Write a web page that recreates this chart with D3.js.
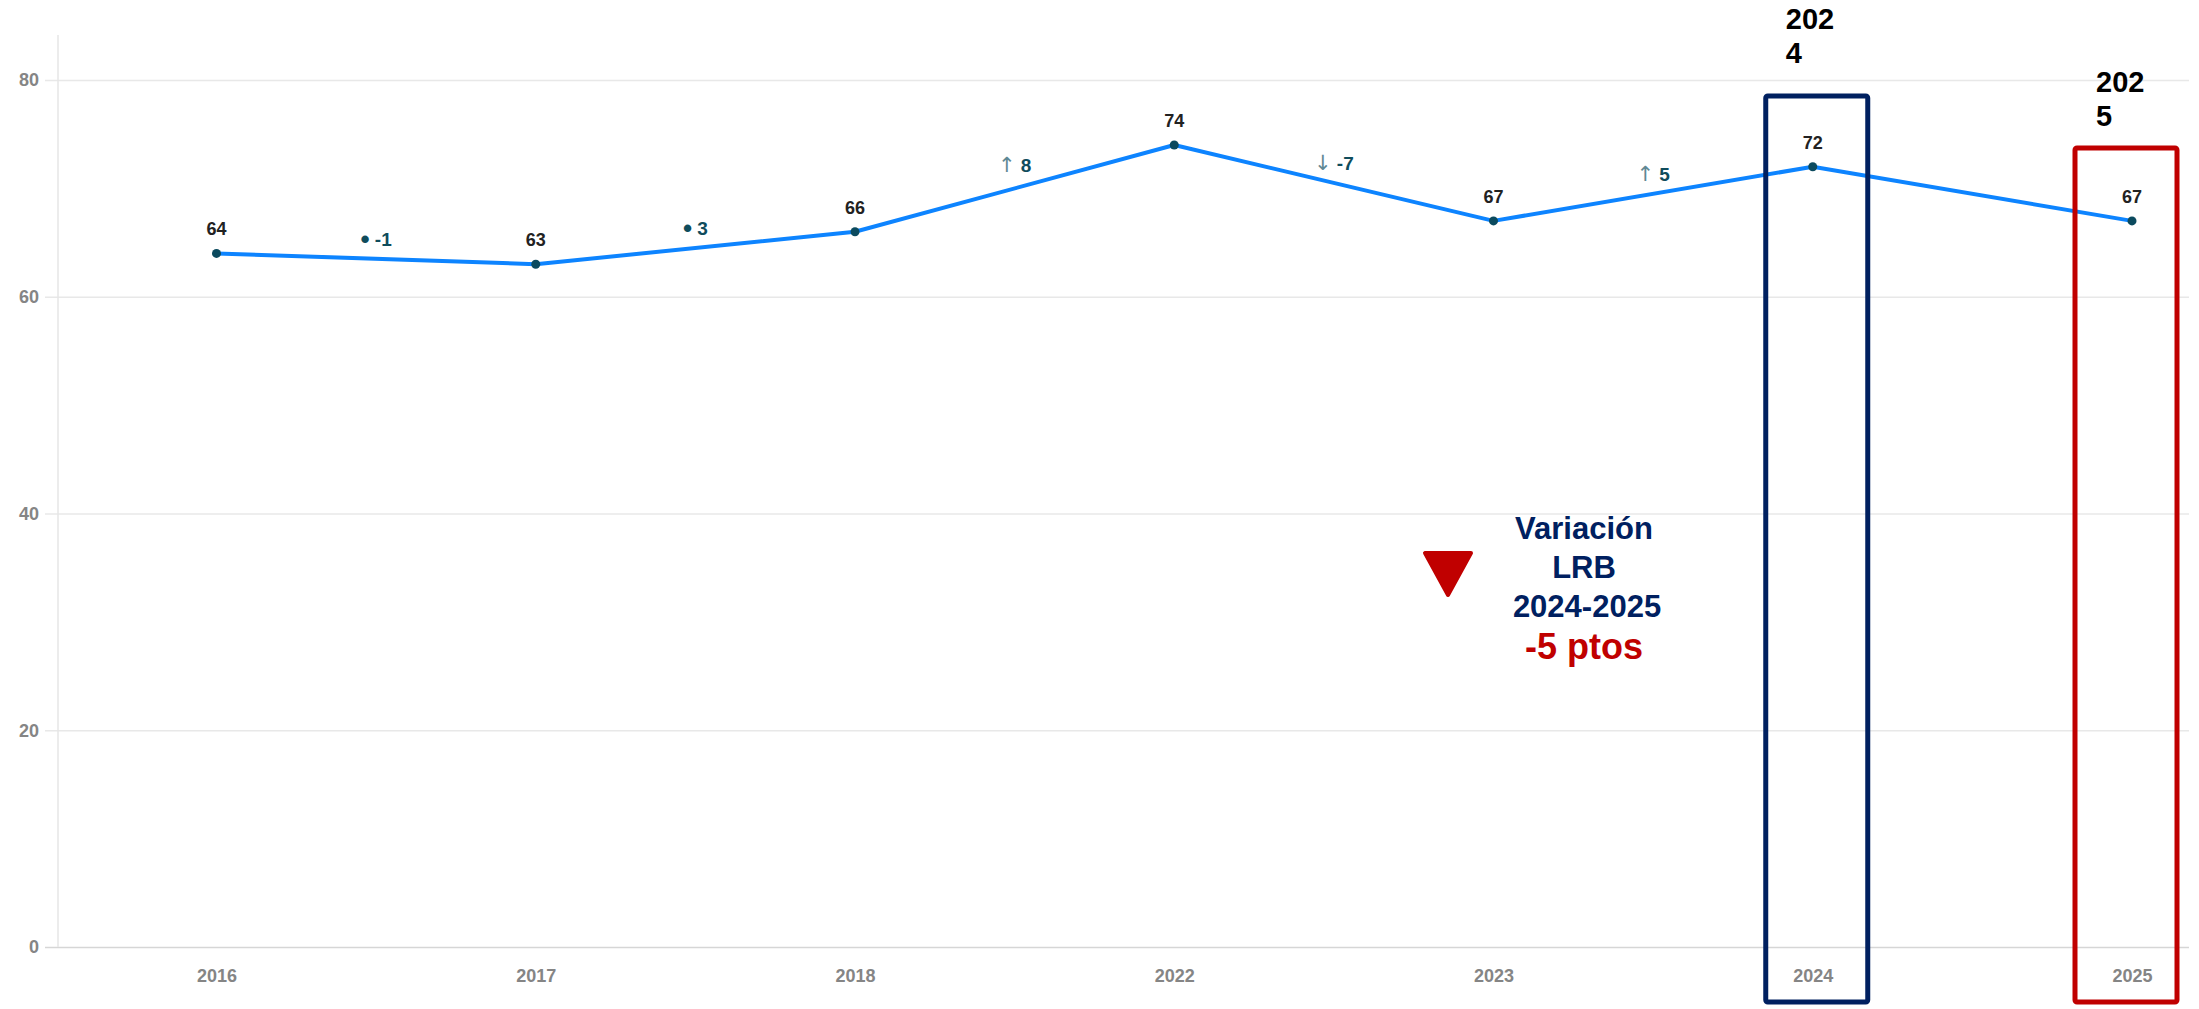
<!DOCTYPE html>
<html>
<head>
<meta charset="utf-8">
<script src="https://cdn.jsdelivr.net/npm/d3@7"></script>
<style>
  html, body { margin: 0; padding: 0; background: #ffffff; }
  svg { display: block; font-family: "Liberation Sans", Arial, sans-serif; }
</style>
</head>
<body>
<svg id="chart" width="2199" height="1009"></svg>
<script>
// Índice LRB por año
const years  = ["2016", "2017", "2018", "2022", "2023", "2024", "2025"];
const values = [64, 63, 66, 74, 67, 72, 67];

// Variación entre años consecutivos (se rotulan los cinco primeros tramos)
const deltas = [-1, 3, 8, -7, 5];

// Marcas del eje vertical
const yTicks = [0, 20, 40, 60, 80];

// Años resaltados con recuadro
const highlightYears  = ["2024", "2025"];
const highlightColors = ["#002060", "#c00000"];

const svg = d3.select("#chart");

const x = d3.scalePoint().domain(years).range([216.5, 2132]);
const y = d3.scaleLinear().domain([0, 80]).range([947, 80]);

const gridLeft = 45, axisX = 58, gridRight = 2189, axisTop = 35;

// Cuadrícula horizontal con marcas a la izquierda del eje
const yAxis = d3.axisLeft(y)
  .tickValues(yTicks)
  .tickSize(-(gridRight - gridLeft))
  .tickPadding(5)
  .tickFormat(d3.format("d"));

const gy = svg.append("g")
  .attr("transform", `translate(${gridLeft},0)`)
  .call(yAxis);
gy.select(".domain").remove();
gy.selectAll(".tick line")
  .attr("stroke", d => d === 0 ? "#d6d6d6" : "#e8e8e8")
  .attr("stroke-width", 1.5);
gy.selectAll(".tick text")
  .attr("fill", "#858585")
  .attr("font-size", 18)
  .attr("font-weight", "bold")
  .attr("font-family", "'Liberation Sans', Arial, sans-serif")
  .attr("dx", -1);

// Línea vertical del eje
svg.append("line")
  .attr("x1", axisX).attr("x2", axisX)
  .attr("y1", axisTop).attr("y2", y(0))
  .attr("stroke", "#e6e6e6").attr("stroke-width", 1.5);

// Eje horizontal de años
const xAxis = d3.axisBottom(x).tickSize(0).tickPadding(22);
const gx = svg.append("g")
  .attr("transform", `translate(0,${y(0)})`)
  .call(xAxis);
gx.select(".domain").remove();
gx.selectAll(".tick text")
  .attr("fill", "#858585")
  .attr("font-size", 18)
  .attr("font-weight", "bold")
  .attr("font-family", "'Liberation Sans', Arial, sans-serif");

// Serie principal
const pts = years.map((yr, i) => ({ year: yr, value: values[i] }));

svg.append("path")
  .datum(pts)
  .attr("fill", "none")
  .attr("stroke", "#0d84ff")
  .attr("stroke-width", 4)
  .attr("stroke-linejoin", "round")
  .attr("d", d3.line().x(d => x(d.year)).y(d => y(d.value)));

svg.selectAll("circle.pt")
  .data(pts)
  .join("circle")
  .attr("class", "pt")
  .attr("cx", d => x(d.year))
  .attr("cy", d => y(d.value))
  .attr("r", 4.5)
  .attr("fill", "#0b4a5e");

// Rótulos de valor
svg.selectAll("text.val")
  .data(pts)
  .join("text")
  .attr("class", "val")
  .attr("x", d => x(d.year))
  .attr("y", d => y(d.value) - 18)
  .attr("text-anchor", "middle")
  .attr("font-size", 18)
  .attr("font-weight", "bold")
  .attr("fill", "#222")
  .text(d => d.value);

// Rótulos de variación entre años
deltas.forEach((d, i) => {
  const a = pts[i], b = pts[i + 1];
  const mx = (x(a.year) + x(b.year)) / 2;
  const my = (y(a.value) + y(b.value)) / 2;
  const t = svg.append("text")
    .attr("x", mx)
    .attr("y", my - (d > 5 ? 16 : 13))
    .attr("text-anchor", "middle")
    .attr("font-size", 19)
    .attr("font-weight", "bold")
    .attr("fill", "#0f4c5c");
  if (Math.abs(d) <= 3) {
    t.append("tspan").attr("font-size", 26).attr("dy", 2).text("•");
    t.append("tspan").attr("dy", -2).text("\u00a0" + d);
  } else {
    t.append("tspan")
      .attr("font-family", "'DejaVu Sans', sans-serif")
      .attr("font-weight", "normal")
      .attr("font-size", 21)
      .attr("fill", "#5f8894")
      .text(d > 0 ? "↑" : "↓");
    t.append("tspan").text("\u00a0" + d);
  }
});

// Recuadros de los años comparados
const boxes = [
  { year: highlightYears[0], left: -47, right: 55, top: 96, label: -27, base: 29 },
  { year: highlightYears[1], left: -57, right: 45, top: 148, label: -36, base: 92 }
];
boxes.forEach((b, i) => {
  const cx = x(b.year);
  svg.append("rect")
    .attr("x", cx + b.left)
    .attr("y", b.top)
    .attr("width", b.right - b.left)
    .attr("height", 1002 - b.top)
    .attr("rx", 2)
    .attr("fill", "none")
    .attr("stroke", highlightColors[i])
    .attr("stroke-width", 5);
  const lbl = svg.append("text")
    .attr("x", cx + b.label)
    .attr("y", b.base)
    .attr("font-size", 29)
    .attr("font-weight", "bold")
    .attr("fill", "#000");
  lbl.append("tspan").attr("x", cx + b.label).text(b.year.slice(0, 3));
  lbl.append("tspan").attr("x", cx + b.label).attr("dy", 34).text(b.year.slice(3));
});

// Nota de variación 2024-2025
const vFrom = values[years.indexOf(highlightYears[0])];
const vTo = values[years.indexOf(highlightYears[1])];
const change = vTo - vFrom;

svg.append("path")
  .attr("d", "M1425,553 L1471,553 L1448,595 Z")
  .attr("fill", "#c00000")
  .attr("stroke", "#c00000")
  .attr("stroke-width", 4)
  .attr("stroke-linejoin", "round");

const noteX = 1584;
const note = svg.append("text")
  .attr("text-anchor", "middle")
  .attr("font-weight", "bold");
note.append("tspan").attr("x", noteX).attr("y", 539).attr("font-size", 31).attr("fill", "#002060").text("Variación");
note.append("tspan").attr("x", noteX).attr("y", 578).attr("font-size", 31).attr("fill", "#002060").text("LRB");
note.append("tspan").attr("x", noteX + 3).attr("y", 617).attr("font-size", 31).attr("fill", "#002060")
  .text(`${highlightYears[0]}-${highlightYears[1]}`);
note.append("tspan").attr("x", noteX).attr("y", 659).attr("font-size", 36).attr("fill", "#c00000")
  .text(`${change} ptos`);
</script>
</body>
</html>
